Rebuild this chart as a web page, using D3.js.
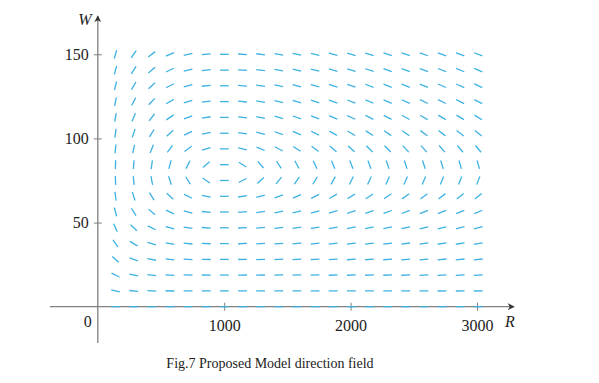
<!DOCTYPE html>
<html>
<head>
<meta charset="utf-8">
<script src="https://cdn.jsdelivr.net/npm/d3@7"></script>
<style>
  html, body { margin: 0; padding: 0; background: #fff; }
  svg { display: block; }
  text { font-family: "Liberation Serif", "DejaVu Serif", serif; fill: #222; }
</style>
</head>
<body>
<svg id="chart" width="599" height="383"></svg>
<script>
// Grid of sample points (R = rabbits, W = wolves)
const rValues = [140, 284, 427, 571, 714, 858, 1001, 1145, 1288, 1432, 1575, 1719, 1862, 2006, 2149, 2293, 2436, 2580, 2723, 2867, 3010];
const wValues = [0, 9.4, 18.8, 28.1, 37.5, 46.9, 56.3, 65.6, 75, 84.4, 93.8, 103.1, 112.5, 121.9, 131.3, 140.6, 150];

// Direction of each segment as drawn (degrees, counter-clockwise from horizontal), one row per W value
const angleRows = [
  [0,0,0,0,0,0,0,0,0,0,0,0,0,0,0,0,0,0,0,0,0],
  [-12.2,-5.1,-2.7,-1.5,-0.8,-0.3,0,0.3,0.5,0.6,0.7,0.8,0.9,1.0,1.1,1.1,1.2,1.2,1.3,1.3,1.3],
  [-26.5,-11.6,-6.2,-3.5,-1.9,-0.8,0,0.6,1.0,1.4,1.7,1.9,2.2,2.3,2.5,2.6,2.7,2.9,2.9,3.0,3.1],
  [-41.5,-20.0,-10.9,-6.2,-3.3,-1.4,0,1.0,1.8,2.5,3.0,3.4,3.8,4.1,4.4,4.6,4.9,5.0,5.2,5.4,5.5],
  [-55.2,-30.6,-17.5,-10.0,-5.4,-2.2,0,1.7,3.0,4.0,4.9,5.6,6.2,6.7,7.1,7.5,7.9,8.2,8.4,8.7,8.9],
  [-66.6,-43.5,-26.8,-15.8,-8.6,-3.6,0,2.7,4.8,6.5,7.8,8.9,9.9,10.7,11.4,12.0,12.5,13.0,13.4,13.7,14.1],
  [-75.5,-57.8,-40.2,-25.3,-14.1,-6.0,0,4.5,8.0,10.7,12.9,14.7,16.2,17.5,18.6,19.5,20.3,21.1,21.7,22.3,22.8],
  [-82.3,-71.9,-58.4,-42.4,-25.9,-11.4,0,8.7,15.2,20.1,23.9,26.9,29.3,31.3,33.0,34.4,35.6,36.6,37.5,38.3,39.0],
  [-87.7,-84.3,-79.4,-71.6,-58.0,-33.5,0,26.7,41.7,50.2,55.5,59.0,61.5,63.4,64.9,66.0,66.9,67.7,68.4,68.9,69.4],
  [88.2,85.6,81.7,75.5,64.0,40.4,0,-32.9,-48.9,-57.1,-61.9,-65.0,-67.1,-68.7,-69.9,-70.9,-71.7,-72.3,-72.9,-73.3,-73.7],
  [84.9,77.7,67.6,53.7,36.0,16.8,0,-12.9,-22.0,-28.6,-33.5,-37.1,-40.0,-42.2,-44.1,-45.6,-46.9,-47.9,-48.9,-49.7,-50.4],
  [82.2,71.5,57.8,41.7,25.4,11.1,0,-8.5,-14.8,-19.6,-23.4,-26.3,-28.7,-30.7,-32.3,-33.7,-34.9,-35.9,-36.9,-37.6,-38.3],
  [80.0,66.7,51.0,34.7,20.2,8.7,0,-6.6,-11.6,-15.5,-18.6,-21.0,-23.1,-24.8,-26.2,-27.4,-28.5,-29.4,-30.2,-30.9,-31.5],
  [78.1,62.9,46.0,30.2,17.2,7.3,0,-5.6,-9.8,-13.1,-15.8,-17.9,-19.7,-21.2,-22.5,-23.5,-24.5,-25.3,-26.1,-26.7,-27.3],
  [76.5,59.8,42.4,27.1,15.2,6.4,0,-4.9,-8.6,-11.6,-13.9,-15.9,-17.5,-18.8,-20.0,-21.0,-21.9,-22.6,-23.3,-23.9,-24.4],
  [75.2,57.3,39.6,24.9,13.9,5.8,0,-4.4,-7.8,-10.5,-12.7,-14.4,-15.9,-17.2,-18.2,-19.2,-20.0,-20.7,-21.3,-21.9,-22.4],
  [74.0,55.2,37.4,23.2,12.8,5.4,0,-4.1,-7.3,-9.7,-11.7,-13.4,-14.8,-15.9,-16.9,-17.8,-18.5,-19.2,-19.8,-20.3,-20.8]
];

const xTicks = [1000, 2000, 3000];
const yTicks = [50, 100, 150];
const xTitle = "R";
const yTitle = "W";
const caption = "Fig.7 Proposed Model direction field";

const svg = d3.select("#chart");
const x = d3.scaleLinear().domain([0, 3000]).range([97.8, 477]);
const y = d3.scaleLinear().domain([0, 150]).range([306.7, 54.3]);

const axisColor = "#808080";
const segColor = "#3db2e2";
const half = 4.4;

const cells = [];
wValues.forEach((w, j) => {
  rValues.forEach((r, i) => {
    cells.push({ r, w, a: angleRows[j][i] });
  });
});

const x0 = x(0), y0 = y(0);
svg.append("defs").append("marker")
  .attr("id", "arrow").attr("viewBox", "0 0 10 10")
  .attr("refX", 9).attr("refY", 5)
  .attr("markerWidth", 9).attr("markerHeight", 7)
  .attr("markerUnits", "userSpaceOnUse")
  .attr("orient", "auto")
  .append("path").attr("d", "M0,0 L10,5 L0,10 L3,5 Z").attr("fill", "#333");

svg.append("line")
  .attr("x1", 50).attr("x2", 514).attr("y1", y0).attr("y2", y0)
  .attr("stroke", axisColor).attr("stroke-width", 1.3)
  .attr("marker-end", "url(#arrow)");
svg.append("line")
  .attr("x1", x0).attr("x2", x0).attr("y1", 343).attr("y2", 16)
  .attr("stroke", axisColor).attr("stroke-width", 1.3)
  .attr("marker-end", "url(#arrow)");

const gx = svg.append("g").attr("transform", `translate(0,${y0})`)
  .call(d3.axisBottom(x).tickValues(xTicks).tickFormat(d3.format("d")).tickSize(4).tickPadding(9));
gx.select(".domain").remove();
gx.selectAll(".tick line").attr("y1", -4).attr("y2", 4).attr("stroke", axisColor).attr("stroke-width", 1);
gx.selectAll(".tick text").attr("font-family", "Liberation Serif").attr("font-size", 16).attr("fill", "#222");

const gy = svg.append("g").attr("transform", `translate(${x0},0)`)
  .call(d3.axisLeft(y).tickValues(yTicks).tickFormat(d3.format("d")).tickSize(4).tickPadding(5));
gy.select(".domain").remove();
gy.selectAll(".tick line").attr("x1", -4).attr("x2", 4).attr("stroke", axisColor).attr("stroke-width", 1);
gy.selectAll(".tick text").attr("font-family", "Liberation Serif").attr("font-size", 16).attr("fill", "#222");

svg.append("text").attr("x", x0 - 10).attr("y", y0 + 20)
  .attr("text-anchor", "middle").attr("font-size", 16).text("0");

svg.append("text").attr("x", 510).attr("y", 327).attr("font-size", 16)
  .attr("font-style", "italic").attr("text-anchor", "middle").text(xTitle);
svg.append("text").attr("x", 85).attr("y", 25).attr("font-size", 16)
  .attr("font-style", "italic").attr("text-anchor", "middle").text(yTitle);

svg.append("g").selectAll("line").data(cells).join("line")
  .attr("x1", d => x(d.r) - half * Math.cos(d.a * Math.PI / 180))
  .attr("x2", d => x(d.r) + half * Math.cos(d.a * Math.PI / 180))
  .attr("y1", d => y(d.w) + half * Math.sin(d.a * Math.PI / 180))
  .attr("y2", d => y(d.w) - half * Math.sin(d.a * Math.PI / 180))
  .attr("stroke", segColor).attr("stroke-width", 1.3);

svg.append("text").attr("x", 270).attr("y", 368).attr("text-anchor", "middle")
  .attr("font-size", 14).text(caption);
</script>
</body>
</html>
